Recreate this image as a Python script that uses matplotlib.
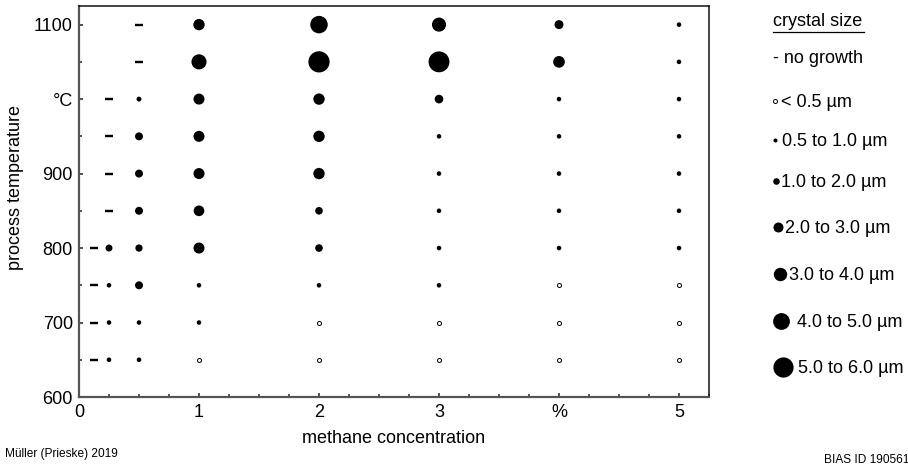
import matplotlib.pyplot as plt
from matplotlib.ticker import FixedLocator, MultipleLocator

plt.rcParams['font.family'] = ['Liberation Sans', 'DejaVu Sans']

# process temperature rows (°C), top to bottom
temps = [1100, 1050, 1000, 950, 900, 850, 800, 750, 700, 650]
# methane concentration columns (%)
conc = [0.125, 0.25, 0.5, 1, 2, 3, 4, 5]

# crystal size in µm per temperature row; None = not run, 0 = no growth
size_c0125 = [None, None, None, None, None, None, 0, 0, 0, 0]
size_c025 = [None, None, 0, 0, 0, 0, 1.6, 0.9, 0.9, 0.9]
size_c05 = [0, 0, 1.0, 1.9, 1.9, 1.9, 1.7, 1.9, 0.9, 0.9]
size_c1 = [2.9, 4.0, 2.8, 2.8, 2.8, 2.7, 2.8, 0.9, 0.9, 0.3]
size_c2 = [4.7, 5.8, 2.9, 2.9, 2.9, 1.8, 1.8, 0.9, 0.3, 0.3]
size_c3 = [3.7, 5.7, 2.1, 0.9, 0.9, 0.9, 0.9, 0.9, 0.3, 0.3]
size_c4 = [2.2, 3.0, 0.9, 0.9, 0.9, 0.9, 0.9, 0.3, 0.3, 0.3]
size_c5 = [0.9, 0.9, 0.9, 0.9, 0.9, 0.9, 0.9, 0.3, 0.3, 0.3]
sizes = [size_c0125, size_c025, size_c05, size_c1, size_c2, size_c3, size_c4, size_c5]

x_ticks = [0, 1, 2, 3, 4, 5]
x_tick_labels = ['0', '1', '2', '3', '%', '5']
y_ticks = [600, 700, 800, 900, 1000, 1100]
y_tick_labels = ['600', '700', '800', '900', '°C', '1100']

legend_sizes = [0.3, 0.75, 1.5, 2.5, 3.5, 4.5, 5.5]
legend_labels = ['< 0.5 µm', '0.5 to 1.0 µm', '1.0 to 2.0 µm', '2.0 to 3.0 µm',
                 '3.0 to 4.0 µm', '4.0 to 5.0 µm', '5.0 to 6.0 µm']

PT = 0.72  # points per pixel at dpi 100


def diam(s):
    # marker diameter in pixels for a crystal size in µm
    return 3.4 * s + 1.5


fig = plt.figure(figsize=(9.08, 4.70), dpi=100)
ax = fig.add_axes([79 / 908, 73 / 470, 630 / 908, 391 / 470])

dash_x, dash_y, open_x, open_y, fill_x, fill_y, fill_s = [], [], [], [], [], [], []
for xc, col in zip(conc, sizes):
    for t, s in zip(temps, col):
        if s is None:
            continue
        if s == 0:
            dash_x.append(xc)
            dash_y.append(t)
        elif s < 0.5:
            open_x.append(xc)
            open_y.append(t)
        else:
            fill_x.append(xc)
            fill_y.append(t)
            fill_s.append((diam(s) * PT) ** 2)

ax.plot(dash_x, dash_y, ls='none', marker='_', ms=7.5 * PT, mew=2.4 * PT, color='k')
ax.scatter(open_x, open_y, s=(4.0 * PT) ** 2, facecolors='white', edgecolors='k', linewidths=0.7, zorder=3)
ax.scatter(fill_x, fill_y, s=fill_s, color='k', linewidths=0, zorder=3)

ax.set_xlim(0, 5.25)
ax.set_ylim(600, 1125)
ax.xaxis.set_major_locator(FixedLocator(x_ticks))
ax.set_xticklabels(x_tick_labels)
ax.xaxis.set_minor_locator(MultipleLocator(0.25))
ax.yaxis.set_major_locator(FixedLocator(y_ticks))
ax.set_yticklabels(y_tick_labels)
ax.yaxis.set_minor_locator(MultipleLocator(50))
ax.tick_params(which='both', direction='in', labelsize=13, width=1.2, color='#333333')
ax.tick_params(which='major', length=3)
ax.tick_params(which='minor', length=2.5)
ax.tick_params(axis='x', pad=5)
ax.tick_params(axis='y', pad=4.5)
for side in ['left', 'bottom']:
    ax.spines[side].set_color('#555555')
    ax.spines[side].set_linewidth(1.6)
for side in ['top', 'right']:
    ax.spines[side].set_color('#111111')
    ax.spines[side].set_linewidth(1.1)

ax.set_xlabel('methane concentration', fontsize=13)
ax.xaxis.set_label_coords(0.5, -0.085)
ax.set_ylabel('process temperature', fontsize=13)
ax.yaxis.set_label_coords(-0.087, 0.537)

# legend and footer drawn in pixel coordinates
lax = fig.add_axes([0, 0, 1, 1], facecolor='none')
lax.set_xlim(0, 908)
lax.set_ylim(470, 0)
lax.axis('off')

lax.text(773, 26, 'crystal size', fontsize=13, va='baseline')
lax.plot([773, 864], [31.5, 31.5], color='k', lw=0.9)
lax.text(773, 63, '- no growth', fontsize=13, va='baseline')

base_y = [107, 146, 187, 233, 280, 327, 373]
text_x = [781, 782, 781, 785, 789, 797, 798]
for s, lab, by, tx in zip(legend_sizes, legend_labels, base_y, text_x):
    cy = by - 6.5
    if s < 0.5:
        lax.scatter([775], [cy], s=(4.0 * PT) ** 2, facecolors='white', edgecolors='k', linewidths=0.7)
    else:
        d = diam(s)
        lax.scatter([773 + d / 2], [cy], s=(d * PT) ** 2, color='k', linewidths=0)
    lax.text(tx, by, lab, fontsize=13, va='baseline')

lax.text(5, 454, 'Müller (Prieske) 2019', fontsize=8.6, va='center')
lax.text(824, 460, 'BIAS ID 190561', fontsize=8.6, va='center')

fig.savefig('out.png', dpi=100)
